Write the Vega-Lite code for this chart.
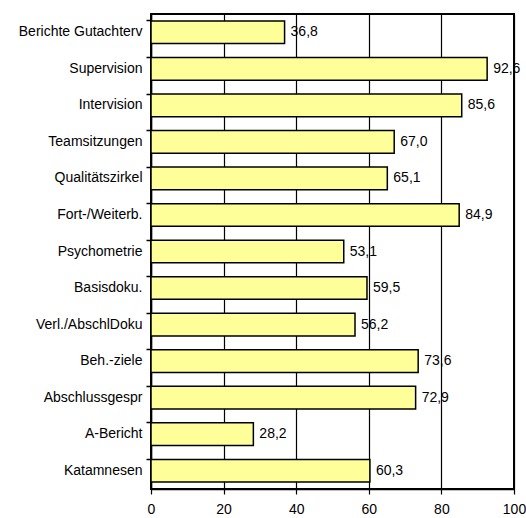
{
  "$schema": "https://vega.github.io/schema/vega-lite/v6.json",
  "width": 363,
  "height": 475,
  "autosize": "none",
  "padding": {"left": 151, "top": 14, "right": 12, "bottom": 29},
  "config": {
    "locale": {"number": {"decimal": ",", "thousands": ".", "grouping": [3], "currency": ["", " €"]}},
    "view": {"stroke": "#000000", "strokeWidth": 2},
    "font": "Liberation Sans",
    "axis": {"labelFont": "Liberation Sans", "labelFontSize": 14, "labelColor": "#000000", "domainColor": "#000000", "tickColor": "#000000"}
  },
  "data": {
    "values": [
      {"cat": "Berichte Gutachterv", "v": 36.8},
      {"cat": "Supervision", "v": 92.6},
      {"cat": "Intervision", "v": 85.6},
      {"cat": "Teamsitzungen", "v": 67.0},
      {"cat": "Qualitätszirkel", "v": 65.1},
      {"cat": "Fort-/Weiterb.", "v": 84.9},
      {"cat": "Psychometrie", "v": 53.1},
      {"cat": "Basisdoku.", "v": 59.5},
      {"cat": "Verl./AbschlDoku", "v": 56.2},
      {"cat": "Beh.-ziele", "v": 73.6},
      {"cat": "Abschlussgespr", "v": 72.9},
      {"cat": "A-Bericht", "v": 28.2},
      {"cat": "Katamnesen", "v": 60.3}
    ]
  },
  "encoding": {
    "y": {
      "field": "cat", "type": "nominal", "sort": null, "title": null,
      "scale": {"paddingInner": 0.38, "paddingOuter": 0.19},
      "axis": {"bandPosition": 0, "tickSize": 5, "labelPadding": 4, "domainWidth": 1.5, "tickWidth": 1.5, "labelBound": false}
    },
    "x": {
      "field": "v", "type": "quantitative", "title": null,
      "scale": {"domain": [0, 100], "nice": false},
      "axis": {"values": [0, 20, 40, 60, 80, 100], "grid": true, "gridColor": "#000000", "gridOpacity": 1, "gridWidth": 1.2, "tickSize": 5, "labelPadding": 8, "domainWidth": 1.5, "tickWidth": 1.2, "labelFlush": false}
    }
  },
  "layer": [
    {"mark": {"type": "bar", "fill": "#FFFF99", "stroke": "#000000", "strokeWidth": 1.5}},
    {
      "mark": {"type": "text", "align": "left", "baseline": "middle", "dx": 6, "fontSize": 14, "font": "Liberation Sans", "color": "#000000"},
      "encoding": {"text": {"field": "v", "type": "quantitative", "format": ".1f"}}
    }
  ]
}
